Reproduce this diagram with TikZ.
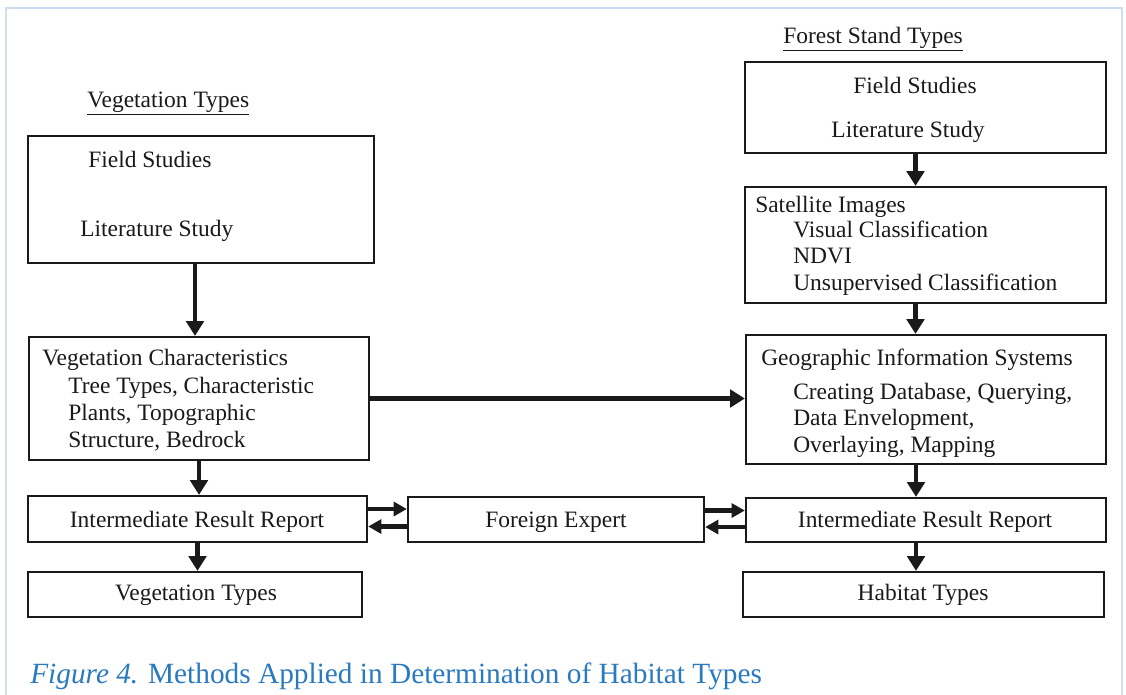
\documentclass[tikz,border=0pt]{standalone}
\usepackage{fontspec}
\setmainfont{Liberation Serif}
\usetikzlibrary{arrows.meta,fit,calc}
\definecolor{framec}{HTML}{D0DCEF}
\definecolor{capblue}{HTML}{2A7AC0}
\definecolor{ink}{HTML}{1A1A1A}
\begin{document}
\begin{tikzpicture}[x=0.75pt,y=-0.75pt,
  box/.style={draw=ink,line width=1.7pt,inner sep=0pt},
  txt/.style={anchor=base west,inner sep=0pt,text=ink,font=\fontsize{17.6}{20}\selectfont},
  ctxt/.style={anchor=base,inner sep=0pt,text=ink,font=\fontsize{17.6}{20}\selectfont},
  arr/.style={draw=ink,line width=3.4pt,-{Triangle[width=13pt,length=11pt]}},
  harr/.style={draw=ink,line width=3.4pt,-{Triangle[width=10.5pt,length=10pt]}}]
\useasboundingbox (0,0) rectangle (1126,694);
\fill[white] (0,0) rectangle (1126,694);
\begin{scope}
\clip (0,0) rectangle (1126,694);
\draw[framec,line width=2.2pt] (6,720) -- (6,8) -- (1122,8) -- (1122,720);
\end{scope}

% left column
\node[txt] (tl) at (87,107) {\underline{Vegetation Types}};
\node[box,fit={(28,136) (374,263)}] (b1) {};
\node[txt] (b1a) at (88,167) {Field Studies};
\node[txt] (b1b) at (80,236) {Literature Study};

\node[box,fit={(29,337) (369,460)}] (b2) {};
\node[txt] (b2a) at (42,365) {Vegetation Characteristics};
\node[txt] (b2b) at (68,393) {Tree Types, Characteristic};
\node[txt] (b2c) at (68,420) {Plants, Topographic};
\node[txt] (b2d) at (68,447) {Structure, Bedrock};

\node[box,fit={(28,496) (367,542)}] (irl) {};
\node[ctxt] (irlt) at (197,527) {Intermediate Result Report};
\node[box,fit={(28,572) (362,617)}] (vt) {};
\node[ctxt] (vtt) at (196,600) {Vegetation Types};

% middle
\node[box,fit={(408,497) (704,542)}] (fe) {};
\node[ctxt] (fet) at (556,527) {Foreign Expert};

% right column
\node[txt] (tr) at (783,43) {\underline{Forest Stand Types}};
\node[box,fit={(745,62) (1106,153)}] (r1) {};
\node[ctxt] (r1a) at (915,93) {Field Studies};
\node[ctxt] (r1b) at (908,137) {Literature Study};

\node[box,fit={(745,187) (1106,303)}] (r2) {};
\node[txt] (r2a) at (755,212) {Satellite Images};
\node[txt] (r2b) at (793,237) {Visual Classification};
\node[txt] (r2c) at (793,263) {NDVI};
\node[txt] (r2d) at (793,290) {Unsupervised Classification};

\node[box,fit={(746,335) (1106,464)}] (r3) {};
\node[txt] (r3a) at (761,365) {Geographic Information Systems};
\node[txt] (r3b) at (793,399) {Creating Database, Querying,};
\node[txt] (r3c) at (793,425) {Data Envelopment,};
\node[txt] (r3d) at (793,452) {Overlaying, Mapping};

\node[box,fit={(746,498) (1106,542)}] (irr) {};
\node[ctxt] (irrt) at (925,527) {Intermediate Result Report};
\node[box,fit={(743,572) (1104,617)}] (ht) {};
\node[ctxt] (htt) at (923,600) {Habitat Types};

% vertical arrows left
\draw[arr] ([xshift=-4.5pt]b1.south) -- ([xshift=-4.5pt]b1.south |- b2.north);
\draw[arr] (b2.south) -- (b2.south |- irl.north);
\draw[arr] (irl.south) -- (irl.south |- vt.north);
% vertical arrows right
\draw[arr] ([xshift=-7.5pt]r1.south) -- ([xshift=-7.5pt]r1.south |- r2.north);
\draw[arr] ([xshift=-7.5pt]r2.south) -- ([xshift=-7.5pt]r2.south |- r3.north);
\draw[arr] ([xshift=-7.5pt]r3.south) -- ([xshift=-7.5pt]r3.south |- irr.north);
\draw[arr] ([xshift=-7.5pt]irr.south) -- ([xshift=-7.5pt]irr.south |- ht.north);
% long horizontal
\draw[arr] (b2.east) -- (b2.east -| r3.west);
% double arrows
\draw[harr] ([yshift=7.5pt]irl.east) -- ([yshift=7.5pt]irl.east -| fe.west);
\draw[harr] ([yshift=-5.25pt]fe.west) -- ([yshift=-5.25pt]fe.west -| irl.east);
\draw[harr] ([yshift=6.75pt]fe.east) -- ([yshift=6.75pt]fe.east -| irr.west);
\draw[harr] ([yshift=-5.25pt]irr.west) -- ([yshift=-5.25pt]irr.west -| fe.east);

% caption
\node[anchor=base west,inner sep=0pt,text=capblue,font=\fontsize{22}{26}\selectfont] (cap) at (30,683) {\textit{Figure 4.} Methods Applied in Determination of Habitat Types};
\end{tikzpicture}
\end{document}
